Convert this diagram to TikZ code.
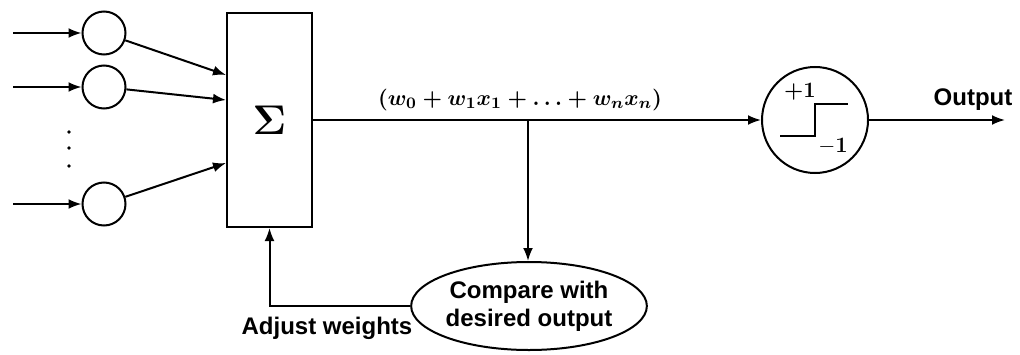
\documentclass[tikz,border=0pt]{standalone}
\usepackage{amsmath,bm}
\usepackage{fontspec}
\setsansfont{Liberation Sans}
\usetikzlibrary{arrows.meta,positioning,calc,shapes.geometric}

\begin{document}
\begin{tikzpicture}[
  x=0.5pt, y=0.5pt,
  inp/.style={draw, circle, minimum size=21.5pt, inner sep=0pt, line width=1pt},
  sumbox/.style={draw, minimum width=42.5pt, minimum height=107pt, inner sep=0pt, line width=1pt},
  thr/.style={draw, circle, minimum size=53pt, inner sep=0pt, line width=1pt},
  cmp/.style={draw, ellipse, minimum width=111pt, minimum height=44pt, inner sep=0pt,
    align=center, font=\sffamily\bfseries\fontsize{12}{14}\selectfont, line width=1pt},
  lbl/.style={font=\sffamily\bfseries\fontsize{12}{14}\selectfont},
  formula/.style={font=\fontsize{11.2}{13}\selectfont\boldmath},
  steplbl/.style={font=\fontsize{11}{12}\selectfont\bfseries},
  edge/.style={line width=1pt, -{Latex[length=6.5pt,width=5pt]}}
]
\useasboundingbox (0,0) rectangle (1020,354);

% inputs
\node[inp] (x1) at (104,321) {};
\node[inp] (x2) at (104,267) {};
\node[inp] (xn) at (104,150) {};

\coordinate (s1) at (13,321);
\coordinate (s2) at (13,267);
\coordinate (sn) at (13,150);

\foreach \y in {222,206,188}
  \fill (69,\y) circle (1.8);

% summing unit and threshold
\node[sumbox] (sum) at (269.5,234) {\fontsize{22}{24}\selectfont$\bm{\Sigma}$};
\node[thr] (thr) at (815,234) {};
\node[cmp] (cmp) at (529,48) {Compare with\\desired output};

\coordinate (out) at (1005,234);
\coordinate (tap) at (528,234);

\draw[edge] (s1) -- (x1);
\draw[edge] (s2) -- (x2);
\draw[edge] (sn) -- (xn);

\draw[edge] (x1) -- ([yshift=22.5pt]sum.west);
\draw[edge] (x2) -- ([yshift=10pt]sum.west);
\draw[edge] (xn) -- ([yshift=-21.5pt]sum.west);

\draw[edge] (sum) -- (thr);
\draw[edge] (thr) -- (out);
\draw[edge] (tap) -- (tap |- cmp.north);
\draw[edge] (cmp.west) -| (sum.south);

% step inside threshold
\draw[line width=1.4pt] ($(thr)+(-35,-16)$) -- ($(thr)+(0,-16)$)
  -- ($(thr)+(0,16)$) -- ($(thr)+(33,16)$);
\node[steplbl] (plus) at ($(thr)+(-15,28)$) {+1};
\node[steplbl] (minus) at ($(thr)+(18,-26)$) {$-$1};

% labels
\node[formula] (wsum) at (520,254) {$(w_0 + w_1x_1 + \ldots + w_nx_n)$};
\node[lbl] (outlbl) at (973,254) {Output};
\node[lbl] (adj) at (327,26) {Adjust weights};

\end{tikzpicture}
\end{document}
